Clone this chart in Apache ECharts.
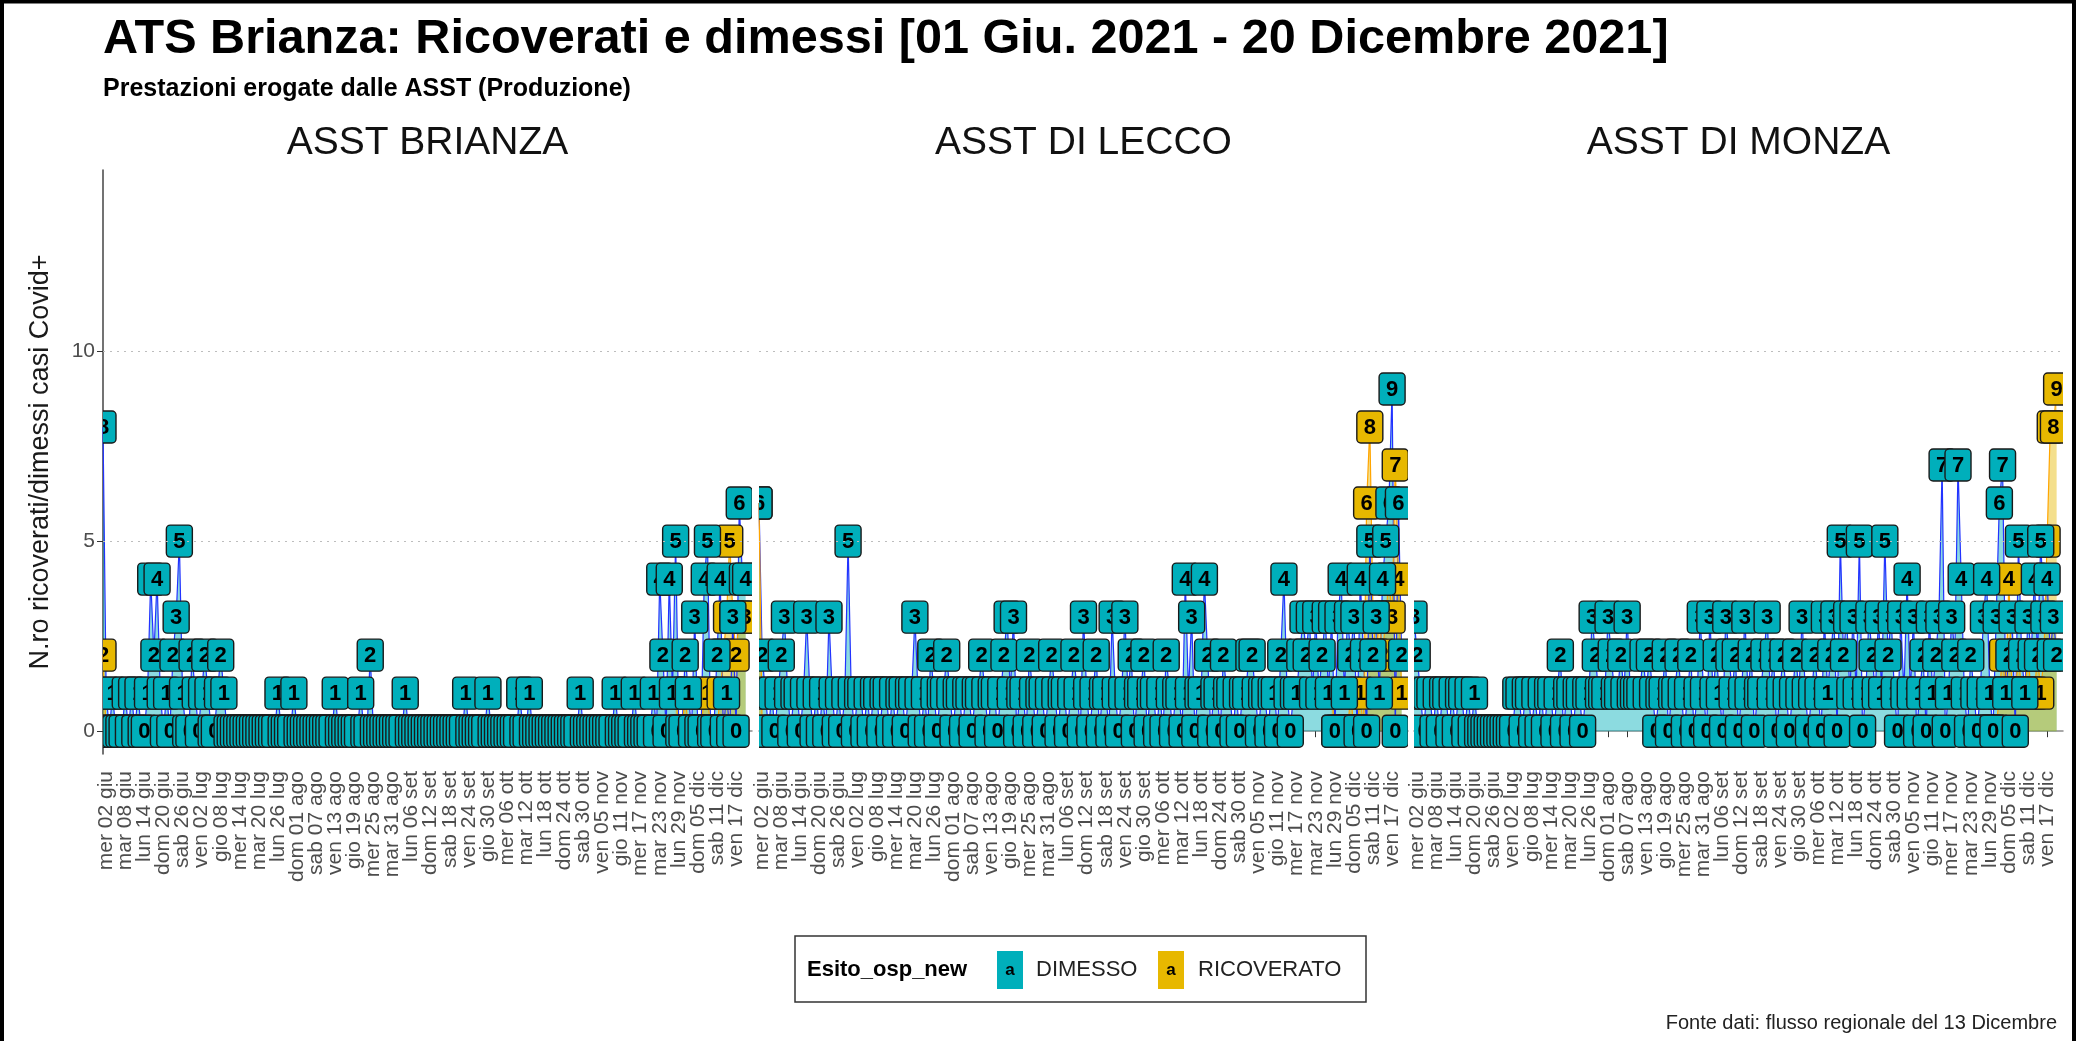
<!DOCTYPE html>
<html>
<head>
<meta charset="utf-8">
<title>ATS Brianza: Ricoverati e dimessi</title>
<script src="https://cdn.jsdelivr.net/npm/echarts@6/dist/echarts.min.js"></script>
<style>
html, body { margin: 0; padding: 0; background: #fff; }
#main { width: 2080px; height: 1041px; }
</style>
</head>
<body>
<div id="main"></div>
<script>
var FONT = '"Liberation Sans", Arial, sans-serif';
var TEAL = '#00AFBB', GOLD = '#E7B800';

var panels = ['ASST BRIANZA', 'ASST DI LECCO', 'ASST DI MONZA'];
var yTicks = [0, 5, 10];

// giorni dal 01 giu 2021 (indice 0) al 20 dic 2021 (indice 202)
var dimessoBrianza = [
	8,1,0,1,0,0,0,1,0,1,
	0,1,0,0,1,4,2,4,1,0,
	1,0,2,3,5,1,0,0,2,1,
	0,1,2,1,0,0,1,2,1,0,
	0,0,0,0,0,0,0,0,0,0,
	0,0,0,0,0,1,0,0,0,0,
	1,0,0,0,0,0,0,0,0,0,
	0,0,0,1,0,0,0,0,0,0,
	0,1,0,0,2,0,0,0,0,0,
	0,0,0,0,0,1,0,0,0,0,
	0,0,0,0,0,0,0,0,0,0,
	0,0,0,0,1,0,0,0,0,0,
	0,1,0,0,0,0,0,0,0,0,
	0,1,0,0,1,0,0,0,0,0,
	0,0,0,0,0,0,0,0,0,0,
	1,0,0,0,0,0,0,0,0,0,
	0,1,0,0,0,0,0,1,0,0,
	0,0,0,1,0,4,2,0,4,1,
	5,0,0,2,1,0,3,0,0,4,
	5,0,0,2,4,0,1,0,3,0,
	6,4,4
];
var dimessoLecco = [
	6,2,1,0,1,0,1,2,3,1,
	0,1,1,0,1,3,1,0,1,0,
	1,0,3,1,0,1,0,1,5,1,
	0,1,1,0,1,0,1,1,0,1,
	1,0,1,0,1,1,0,1,1,3,
	1,0,1,0,2,1,0,1,1,2,
	1,0,1,1,0,1,1,0,1,1,
	2,1,0,1,1,0,1,2,3,1,
	3,0,1,1,0,2,1,0,1,1,
	0,1,2,1,0,1,1,0,1,2,
	1,0,3,1,0,1,2,0,1,1,
	0,3,1,0,1,3,1,2,0,1,
	1,2,0,1,1,0,1,0,2,1,
	0,1,1,0,4,1,3,0,1,1,
	4,2,0,1,1,0,2,1,1,0,
	1,0,1,1,2,2,1,0,1,1,
	0,1,1,0,2,4,1,0,1,1,
	2,3,2,3,1,3,1,2,3,1,
	3,0,3,4,1,3,2,3,0,4,
	2,0,5,2,3,1,4,5,6,9,
	0,6,2
];
var dimessoMonza = [
	3,2,1,0,1,1,0,1,0,1,
	1,0,1,0,1,1,0,1,0,1,
	0,0,0,0,0,0,0,0,0,0,
	0,0,1,1,0,1,1,0,1,0,
	1,0,1,1,0,1,2,0,1,1,
	0,1,1,0,1,1,3,2,1,1,
	1,3,2,1,1,2,1,3,1,1,
	1,1,2,1,2,1,0,1,1,2,
	0,1,1,2,1,0,1,2,0,1,
	3,1,0,3,1,2,1,0,3,2,
	1,2,0,1,3,1,2,0,1,1,
	2,3,1,2,0,1,2,1,0,1,
	2,1,3,1,0,1,2,1,0,3,
	1,2,3,0,5,2,3,1,3,1,
	5,0,1,3,2,1,3,1,5,2,
	3,1,0,3,1,4,1,3,0,1,
	2,0,3,1,2,3,7,0,1,3,
	2,7,4,1,0,2,1,0,1,3,
	4,1,0,3,6,7,1,2,3,0,
	5,2,1,3,2,4,2,5,3,4,
	2,3,2
];
// ricoverati: [indice giorno, valore], solo i giorni presenti
var ricoveratoBrianza = [
	[0,2],[1,0],[180,1],[181,0],[182,0],[183,1],[184,0],[185,0],[186,0],[187,0],
	[188,0],[189,1],[190,1],[191,0],[192,0],[193,0],[194,1],[195,2],[196,3],[197,5],
	[198,3],[199,2],[200,3],[201,3],[202,3]
];
var ricoveratoLecco = [
	[0,6],[1,0],[140,1],[165,1],[180,1],[181,0],[182,0],[183,0],[184,0],[185,0],
	[186,1],[187,0],[188,0],[189,1],[190,0],[191,6],[192,8],[193,3],[194,2],[195,3],
	[196,2],[197,3],[198,4],[199,3],[200,7],[201,4],[202,1]
];
var ricoveratoMonza = [
	[163,1],[180,0],[181,0],[182,0],[183,0],[184,1],[185,2],[186,1],[187,4],[188,1],
	[189,1],[190,2],[191,1],[192,1],[193,2],[194,1],[195,1],[196,2],[197,1],[198,2],
	[199,5],[200,8],[201,8],[202,9]
];

var giorni = ['dom','lun','mar','mer','gio','ven','sab'];
var mesi = ['gen','feb','mar','apr','mag','giu','lug','ago','set','ott','nov','dic'];
var days = [];
for (var i = 0; i < 205; i++) {
	var dt = new Date(Date.UTC(2021, 5, 1 + i));
	days.push(giorni[dt.getUTCDay()] + ' ' + ('0' + dt.getUTCDate()).slice(-2) + ' ' + mesi[dt.getUTCMonth()]);
}

// un'etichetta ogni 6 giorni, da mer 02 giu a ven 17 dic
function showTick(idx) {
	return idx >= 1 && idx <= 199 && (idx - 1) % 6 === 0;
}

function fillSparse(pairs) {
	var arr = [];
	for (var i = 0; i < 203; i++) arr.push(null);
	pairs.forEach(function(p) { arr[p[0]] = p[1]; });
	return arr;
}

var dimesso = [dimessoBrianza, dimessoLecco, dimessoMonza];
var ricoverato = [fillSparse(ricoveratoBrianza), fillSparse(ricoveratoLecco), fillSparse(ricoveratoMonza)];

var lefts = [103, 759, 1414];
var grids = [], xAxes = [], yAxes = [], series = [];

function labelSeries(i, values, color, z) {
	var pts = [];
	values.forEach(function(v, d) { if (v !== null) pts.push([d, v]); });
	return {
		type: 'custom', xAxisIndex: i, yAxisIndex: i, data: pts, clip: true, silent: true, z: z,
		renderItem: function(params, api) {
			var v = api.value(1);
			var p = api.coord([api.value(0), v]);
			return {
				type: 'group',
				children: [
					{type: 'rect', shape: {x: p[0] - 13, y: p[1] - 16, width: 26, height: 32, r: 4},
						style: {fill: color, stroke: '#1a1a1a', lineWidth: 1.4}},
					{type: 'text', x: p[0], y: p[1] + 1,
						style: {text: String(v), font: 'bold 22px ' + FONT, fill: '#000',
							align: 'center', verticalAlign: 'middle', textAlign: 'center', textVerticalAlign: 'middle'}}
				]
			};
		}
	};
}

for (var k = 0; k < 3; k++) {
	grids.push({left: lefts[k], top: 170, width: 649, height: 584, outerBoundsMode: 'none'});
	xAxes.push({
		gridIndex: k, type: 'category', data: days, boundaryGap: false,
		axisLine: {show: true, lineStyle: {color: '#8c8c8c', width: 1.5}},
		axisTick: {show: true, interval: showTick, length: 6, lineStyle: {color: '#333'}},
		axisLabel: {
			interval: 0, rotate: 90, fontSize: 21, fontFamily: FONT, color: '#4d4d4d', margin: 17, hideOverlap: false,
			formatter: function(value, idx) { return showTick(idx) ? value : ''; }
		},
		splitLine: {show: false}
	});
	yAxes.push({
		gridIndex: k, type: 'value', min: -0.6, max: 14.76,
		axisLine: {show: k === 0, lineStyle: {color: '#444', width: 1.5}},
		axisTick: {show: k === 0, customValues: yTicks, length: 6, lineStyle: {color: '#333'}},
		axisLabel: {show: k === 0, customValues: yTicks, fontSize: 21, fontFamily: FONT, color: '#4d4d4d', margin: 8},
		splitLine: {show: false},
		name: k === 0 ? 'N.ro ricoverati/dimessi casi Covid+' : '',
		nameLocation: 'middle', nameGap: 49,
		nameTextStyle: {fontSize: 27, fontFamily: FONT, color: '#1a1a1a'}
	});
	series.push({
		type: 'line', xAxisIndex: k, yAxisIndex: k, data: dimesso[k], symbol: 'none', showSymbol: false,
		lineStyle: {color: '#2233ff', width: 1.2}, areaStyle: {color: TEAL, opacity: 0.45}, z: 2,
		markLine: {
			silent: true, symbol: 'none', label: {show: false}, animation: false,
			lineStyle: {type: [2, 5], color: '#bdbdbd', width: 1.2},
			data: [{yAxis: 5}, {yAxis: 10}]
		}
	});
	series.push({
		type: 'line', xAxisIndex: k, yAxisIndex: k, data: ricoverato[k], symbol: 'none', showSymbol: false,
		connectNulls: false,
		lineStyle: {color: '#FFA500', width: 1.2}, areaStyle: {color: GOLD, opacity: 0.45}, z: 2
	});
	series.push(labelSeries(k, ricoverato[k], GOLD, 3));
	series.push(labelSeries(k, dimesso[k], TEAL, 4));
}

function txt(x, y, text, font, align, fill, z) {
	return {type: 'text', x: x, y: y, z: z || 50,
		style: {text: text, font: font + ' ' + FONT, fill: fill || '#000',
			align: align, verticalAlign: 'middle', textAlign: align, textVerticalAlign: 'middle'}};
}

var graphics = [
	txt(103, 40, 'ATS Brianza: Ricoverati e dimessi [01 Giu. 2021 - 20 Dicembre 2021]', 'bold 48.6px', 'left'),
	txt(103, 89, 'Prestazioni erogate dalle ASST (Produzione)', 'bold 25px', 'left'),
	txt(427.5, 143, panels[0], '39px', 'center', '#111'),
	txt(1083.5, 143, panels[1], '39px', 'center', '#111'),
	txt(1738.5, 143, panels[2], '39px', 'center', '#111'),
	{type: 'rect', z: 50, shape: {x: 795, y: 936, width: 571, height: 66},
		style: {fill: '#fff', stroke: '#333', lineWidth: 1.5}},
	txt(807, 970, 'Esito_osp_new', 'bold 22px', 'left'),
	{type: 'rect', z: 51, shape: {x: 997, y: 951, width: 26, height: 38}, style: {fill: TEAL}},
	txt(1010, 970, 'a', 'bold 17px', 'center', '#000', 52),
	txt(1036, 970, 'DIMESSO', '22px', 'left', '#222'),
	{type: 'rect', z: 51, shape: {x: 1158, y: 951, width: 26, height: 38}, style: {fill: GOLD}},
	txt(1171, 970, 'a', 'bold 17px', 'center', '#000', 52),
	txt(1198, 970, 'RICOVERATO', '22px', 'left', '#222'),
	txt(2057, 1023, 'Fonte dati: flusso regionale del 13 Dicembre', '20px', 'right', '#222'),
	{type: 'rect', z: 60, shape: {x: 2, y: 1.5, width: 2072, height: 1200},
		style: {fill: 'none', stroke: '#000', lineWidth: 4}}
];

var myChart = echarts.init(document.getElementById('main'));
myChart.setOption({
	animation: false,
	backgroundColor: '#fff',
	textStyle: {fontFamily: FONT},
	grid: grids,
	xAxis: xAxes,
	yAxis: yAxes,
	series: series,
	graphic: graphics
});
</script>
</body>
</html>
